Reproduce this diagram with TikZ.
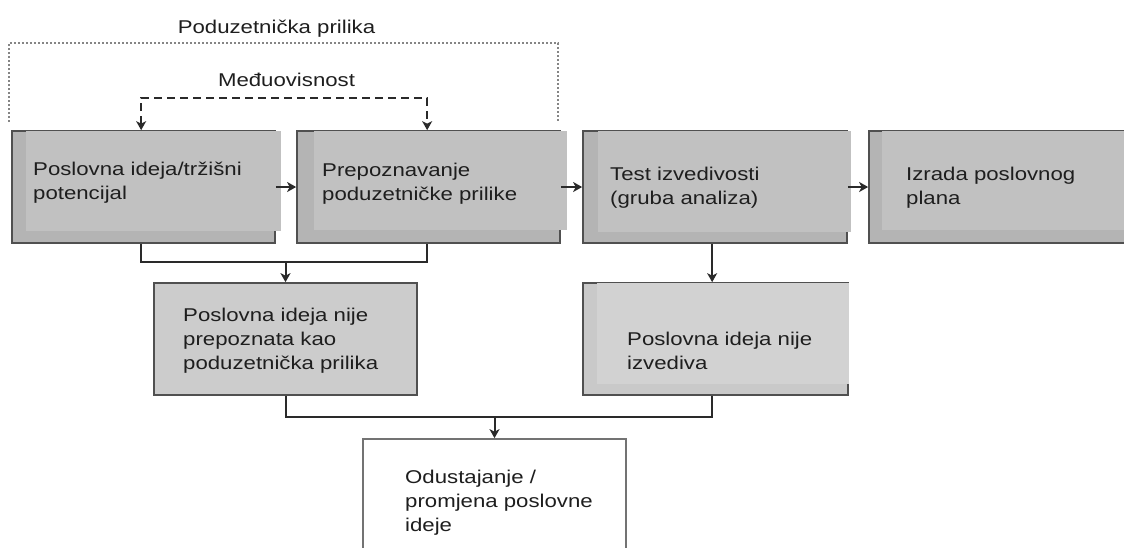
\documentclass[tikz,border=0pt]{standalone}
\usepackage{fontspec}
\setmainfont[FakeStretch=1.2]{Liberation Sans}
\usetikzlibrary{arrows.meta,calc}
\definecolor{boxouter}{HTML}{B4B4B4}
\definecolor{boxinner}{HTML}{C1C1C1}
\definecolor{lightouter}{HTML}{C9C9C9}
\definecolor{lightinner}{HTML}{D2D2D2}
\definecolor{bordercol}{HTML}{505050}
\definecolor{linecol}{HTML}{2A2A2A}
\definecolor{textcol}{HTML}{1E1E1E}
\definecolor{dotcol}{HTML}{858585}
\begin{document}
\begin{tikzpicture}[x=1pt,y=-1pt,
  txt/.style={font=\fontsize{18.5}{24}\selectfont, text=textcol, align=left, inner sep=0pt},
  graybox/.style={draw=bordercol, line width=1.7pt, fill=boxouter, inner sep=0pt, minimum width=263pt, minimum height=112pt},
  lightbox/.style={graybox, fill=lightouter},
  plainbox/.style={draw=bordercol!80, line width=1.7pt, fill=white, inner sep=0pt, minimum width=263pt, minimum height=130pt},
  conn/.style={draw=linecol, line width=2pt},
  arr/.style={conn, -{Stealth[length=9pt,width=10pt,inset=2.5pt]}},
  dashconn/.style={draw=linecol, line width=2pt, dash pattern=on 8pt off 5pt, {Stealth[length=9pt,width=10pt,inset=2.5pt]}-{Stealth[length=9pt,width=10pt,inset=2.5pt]}},
  dotline/.style={draw=dotcol, line width=1.6pt, dash pattern=on 1.6pt off 2.4pt},
]
\clip (0,0) rectangle (1124,547);
\useasboundingbox (0,0) rectangle (1124,547);

% boxes
\node[graybox] (A) at (143.5,187) {};
\fill[boxinner] ($(A.north west)+(15pt,-0.9pt)$) rectangle ($(A.south east)+(5pt,13pt)$);
\node[graybox] (B) at (428.5,187) {};
\fill[boxinner] ($(B.north west)+(18pt,-0.9pt)$) rectangle ($(B.south east)+(6pt,14pt)$);
\node[graybox, minimum width=264pt] (C) at (715,187) {};
\fill[boxinner] ($(C.north west)+(16pt,-0.9pt)$) rectangle ($(C.south east)+(3pt,12pt)$);
\node[graybox, minimum width=280pt] (D) at (1009,187) {};
\fill[boxinner] ($(D.north west)+(14pt,-0.9pt)$) rectangle ($(D.south east)+(3pt,14pt)$);
\node[lightbox, fill=lightinner!97!black] (E) at (285.5,339) {};
\node[lightbox, minimum width=265pt] (F) at (715.5,339) {};
\fill[lightinner] ($(F.north west)+(15pt,-0.9pt)$) rectangle ($(F.south east)+(0pt,12pt)$);
\node[plainbox] (G) at (494.5,504) {};

% texts (anchor = baseline of the last line)
\node[txt, anchor=base west] (tA) at (33,199) {Poslovna ideja/tržišni\\potencijal};
\node[txt, anchor=base west] (tB) at (322,200.5) {Prepoznavanje\\poduzetničke prilike};
\node[txt, anchor=base west] (tC) at (610,204) {Test izvedivosti\\(gruba analiza)};
\node[txt, anchor=base west] (tD) at (906,204) {Izrada poslovnog\\plana};
\node[txt, anchor=base west] (tE) at (183,369.5) {Poslovna ideja nije\\prepoznata kao\\poduzetnička prilika};
\node[txt, anchor=base west] (tF) at (627,369.5) {Poslovna ideja nije\\izvediva};
\node[txt, anchor=base west] (tG) at (405,531.5) {Odustajanje /\\promjena poslovne\\ideje};

% bracket and labels
\node[txt, anchor=base] (title) at (276.5,33.5) {Poduzetnička prilika};
\node[txt, anchor=base] (medj) at (286.5,86.5) {Međuovisnost};
\draw[dotline] (9,122) -- (9,43) -- (558,43) -- (558,122);

% connectors
\draw[dashconn] ([xshift=130pt]A.north west) |- ($([xshift=131pt]B.north west)+(0,32pt)$) -- ([xshift=131pt]B.north west);
\draw[arr] (A.east) -- (B.west);
\draw[arr] (B.east) -- (C.west);
\draw[arr] (C.east) -- (D.west);
\draw[conn] ([xshift=130pt]A.south west) |- ($(E.north)+(0,20pt)$) -| ([xshift=131pt]B.south west);
\draw[arr] ($(E.north)+(0,20pt)$) -- (E.north);
\draw[arr] ([xshift=130pt]C.south west) -- ([xshift=130pt]F.north west);
\draw[conn] (E.south) |- ($(G.north)+(0,21pt)$) -| ([xshift=130pt]F.south west);
\draw[arr] ($(G.north)+(0,21pt)$) -- (G.north);
\end{tikzpicture}
\end{document}
